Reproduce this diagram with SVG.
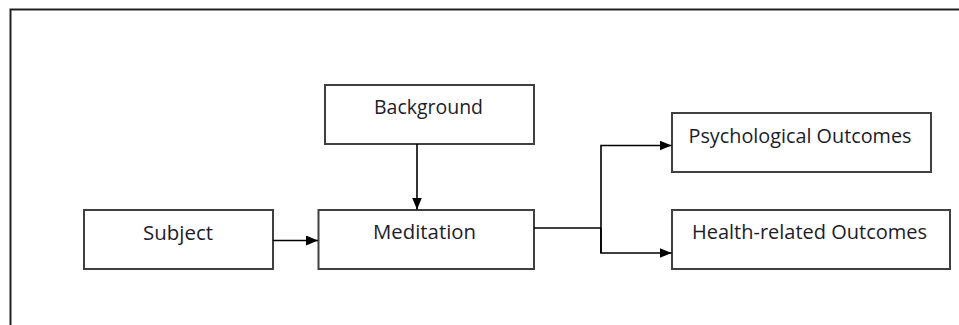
<svg xmlns="http://www.w3.org/2000/svg" width="959" height="325" viewBox="0 0 959 325">
<style>
.box{fill:#fff;stroke:#404040;stroke-width:2}
.lbl{font-family:"Open Sans","Noto Sans","Liberation Sans",sans-serif;font-size:20px;fill:#1c1c2a;text-anchor:middle}
.con{fill:none;stroke:#000;stroke-width:1.6}
</style>
<defs>
<marker id="ah" markerWidth="12" markerHeight="10" refX="12" refY="5" orient="auto" markerUnits="userSpaceOnUse">
<path d="M0,0 L12,5 L0,10 Z" fill="#000"/>
</marker>
</defs>
<rect width="959" height="325" fill="#fff"/>
<path d="M10.5,325 V9.5 H959" fill="none" stroke="#222" stroke-width="2"/>
<g id="subject"><rect class="box" x="84" y="210" width="189" height="59"/><text class="lbl" x="178" y="240" textLength="70" lengthAdjust="spacingAndGlyphs">Subject</text></g>
<g id="background"><rect class="box" x="325" y="85" width="209" height="59"/><text class="lbl" x="428.5" y="114" textLength="109" lengthAdjust="spacingAndGlyphs">Background</text></g>
<g id="meditation"><rect class="box" x="318.5" y="210" width="215.5" height="59"/><text class="lbl" x="424.5" y="239" textLength="103" lengthAdjust="spacingAndGlyphs">Meditation</text></g>
<g id="psychological"><rect class="box" x="672" y="113" width="259" height="59"/><text class="lbl" x="800" y="143" textLength="223" lengthAdjust="spacingAndGlyphs">Psychological Outcomes</text></g>
<g id="health"><rect class="box" x="672" y="210" width="278" height="59"/><text class="lbl" x="809.5" y="239" textLength="235" lengthAdjust="spacingAndGlyphs">Health-related Outcomes</text></g>
<g id="connectors">
<line class="con" x1="273" y1="240.5" x2="318" y2="240.5" marker-end="url(#ah)"/>
<line class="con" x1="417" y1="144" x2="417" y2="209.5" marker-end="url(#ah)"/>
<path class="con" d="M534,228 H601"/>
<path class="con" d="M601,253 V145.5 H671.5" marker-end="url(#ah)"/>
<path class="con" d="M601,228 V253 H671.5" marker-end="url(#ah)"/>
</g>
</svg>
